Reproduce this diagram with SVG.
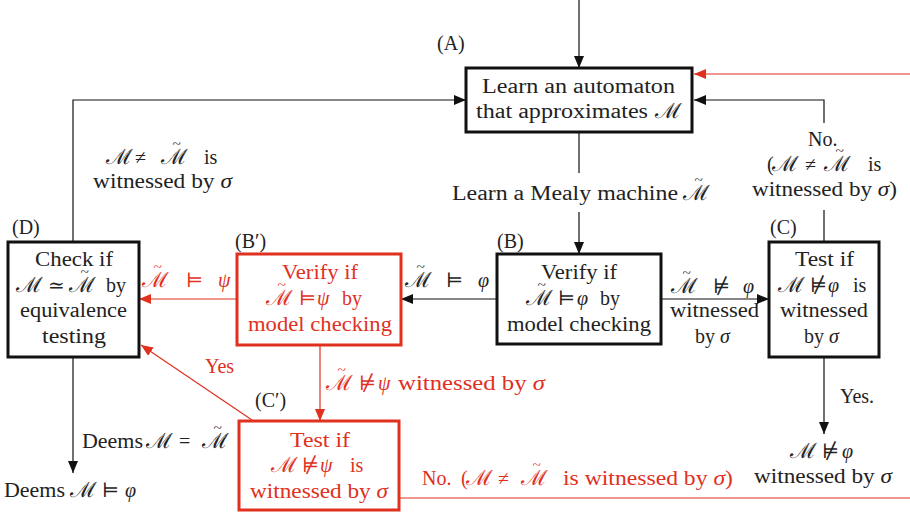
<svg xmlns="http://www.w3.org/2000/svg" width="910" height="512" viewBox="0 0 910 512">
<defs>
<marker id="ab" viewBox="0 0 12 10" refX="12" refY="5" markerWidth="12" markerHeight="10" markerUnits="userSpaceOnUse" orient="auto"><path d="M0,0 L12,5 L0,10 Z" fill="#111"/></marker>
<marker id="ar" viewBox="0 0 12 10" refX="12" refY="5" markerWidth="12" markerHeight="10" markerUnits="userSpaceOnUse" orient="auto"><path d="M0,0 L12,5 L0,10 Z" fill="#e0301e"/></marker>
</defs>
<style>
text{font-family:"Liberation Serif","DejaVu Serif",serif;font-size:20px;fill:#222;text-anchor:start}
.r{fill:#e0301e}
.i{font-style:italic}
.m{font-size:21px}
.t{font-size:14px}
.box{fill:#fff;stroke:#111;stroke-width:3}
.rbox{fill:#fff;stroke:#e0301e;stroke-width:3}
.c{fill:none;stroke:#111;stroke-width:1.2}
.cr{fill:none;stroke:#e0301e;stroke-width:1.2}
</style>
<rect width="910" height="512" fill="#fff"/>
<g id="connectors">
<path class="c" d="M579,0 V68" marker-end="url(#ab)"/>
<path class="cr" d="M910,74 H694" marker-end="url(#ar)"/>
<path class="c" d="M824,242 V210 M824,123 V100 H694" marker-end="url(#ab)"/>
<path class="c" d="M73,242 V100 H466" marker-end="url(#ab)"/>
<path class="c" d="M579,132 V173 M579,212 V254" marker-end="url(#ab)"/>
<path class="c" d="M497,299 H401" marker-end="url(#ab)"/>
<path class="c" d="M661,299 H769" marker-end="url(#ab)"/>
<path class="cr" d="M237,299 H139" marker-end="url(#ar)"/>
<path class="cr" d="M320,345 V421" marker-end="url(#ar)"/>
<path class="cr" d="M252,420 L141,345" marker-end="url(#ar)"/>
<path class="c" d="M824,357 V434" marker-end="url(#ab)"/>
<path class="c" d="M73,357 V473" marker-end="url(#ab)"/>
<path class="cr" d="M399,498 H910"/>
</g>
<g id="labels">
<text class="m" transform="translate(106,164) scale(1.1,1)">ℳ</text><text x="135" y="164">≠</text><text class="m" transform="translate(161,164) scale(1.1,1)">ℳ<tspan class="t" x="10.5" dy="-15">~</tspan></text><text x="204" y="164">is</text>
<text x="93" y="188" textLength="139" lengthAdjust="spacingAndGlyphs">witnessed by <tspan class="i">σ</tspan></text>
<text x="452" y="200" textLength="226" lengthAdjust="spacingAndGlyphs">Learn a Mealy machine</text><text class="m" transform="translate(683,200) scale(1.1,1)">ℳ<tspan class="t" x="10.5" dy="-15">~</tspan></text>
<text x="808" y="146">No.</text>
<text x="767" y="171">(</text><text class="m" transform="translate(772,171) scale(1.1,1)">ℳ</text><text x="805" y="171">≠</text><text class="m" transform="translate(824,171) scale(1.1,1)">ℳ<tspan class="t" x="10.5" dy="-15">~</tspan></text><text x="868" y="171">is</text>
<text x="752" y="196" textLength="145" lengthAdjust="spacingAndGlyphs">witnessed by <tspan class="i">σ</tspan>)</text>
<text class="m" transform="translate(405,287) scale(1.1,1)">ℳ<tspan class="t" x="10.5" dy="-15">~</tspan></text><text x="446" y="287">⊨</text><text class="i" x="478" y="287">φ</text>
<text class="m" transform="translate(671,293) scale(1.1,1)">ℳ<tspan class="t" x="10.5" dy="-15">~</tspan></text><text x="713" y="293">⊭</text><text class="i" x="743" y="293">φ</text>
<text x="670" y="317" textLength="89" lengthAdjust="spacingAndGlyphs">witnessed</text>
<text x="695" y="343">by <tspan class="i">σ</tspan></text>
<text class="m r" transform="translate(142,287) scale(1.1,1)">ℳ<tspan class="t" x="10.5" dy="-15">~</tspan></text><text class="r" x="186" y="287">⊨</text><text class="i r" x="218" y="287">ψ</text>
<text class="m r" transform="translate(326,390) scale(1.1,1)">ℳ<tspan class="t" x="10.5" dy="-15">~</tspan></text><text class="r" x="359" y="390">⊭</text><text class="i r" x="378" y="390">ψ</text><text class="r" x="398" y="390" textLength="147" lengthAdjust="spacingAndGlyphs">witnessed by <tspan class="i">σ</tspan></text>
<text class="r" x="205" y="373">Yes</text>
<text x="82" y="448" textLength="61" lengthAdjust="spacingAndGlyphs">Deems</text><text class="m" transform="translate(146,448) scale(1.1,1)">ℳ</text><text x="179" y="448">=</text><text class="m" transform="translate(202,448) scale(1.1,1)">ℳ<tspan class="t" x="10.5" dy="-15">~</tspan></text>
<text x="4" y="497" textLength="61" lengthAdjust="spacingAndGlyphs">Deems</text><text class="m" transform="translate(70,497) scale(1.1,1)">ℳ</text><text x="102" y="497">⊨</text><text class="i" x="125" y="497">φ</text>
<text class="r" x="422" y="485">No.</text><text class="r" x="461" y="485">(</text><text class="m r" transform="translate(466,485) scale(1.1,1)">ℳ</text><text class="r" x="498" y="485">≠</text><text class="m r" transform="translate(521,485) scale(1.1,1)">ℳ<tspan class="t" x="10.5" dy="-15">~</tspan></text><text class="r" x="563" y="485" textLength="170" lengthAdjust="spacingAndGlyphs">is witnessed by <tspan class="i">σ</tspan>)</text>
<text x="840" y="403">Yes.</text>
<text class="m" transform="translate(790,458) scale(1.1,1)">ℳ</text><text x="822" y="458">⊭</text><text class="i" x="842" y="458">φ</text>
<text x="754" y="483" textLength="138" lengthAdjust="spacingAndGlyphs">witnessed by <tspan class="i">σ</tspan></text>
</g>
<g id="A">
<rect class="box" x="466" y="68" width="226" height="64"/>
<text x="437" y="50">(A)</text>
<text x="482" y="93" textLength="193" lengthAdjust="spacingAndGlyphs">Learn an automaton</text>
<text x="476" y="118" textLength="172" lengthAdjust="spacingAndGlyphs">that approximates</text><text class="m" transform="translate(655,118) scale(1.1,1)">ℳ</text>
</g>
<g id="B">
<rect class="box" x="497" y="254" width="164" height="90"/>
<text x="497" y="248">(B)</text>
<text x="541" y="279" textLength="76" lengthAdjust="spacingAndGlyphs">Verify if</text>
<text class="m" transform="translate(526,305) scale(1.1,1)">ℳ<tspan class="t" x="10.5" dy="-15">~</tspan></text><text x="558" y="305">⊨</text><text class="i" x="577" y="305">φ</text><text x="600" y="305">by</text>
<text x="507" y="331" textLength="144" lengthAdjust="spacingAndGlyphs">model checking</text>
</g>
<g id="C">
<rect class="box" x="769" y="242" width="110" height="115"/>
<text x="770" y="234">(C)</text>
<text x="795" y="266" textLength="59" lengthAdjust="spacingAndGlyphs">Test if</text>
<text class="m" transform="translate(778,292) scale(1.1,1)">ℳ</text><text x="810" y="292">⊭</text><text class="i" x="828" y="292">φ</text><text x="853" y="292">is</text>
<text x="780" y="317" textLength="88" lengthAdjust="spacingAndGlyphs">witnessed</text>
<text x="804" y="343">by <tspan class="i">σ</tspan></text>
</g>
<g id="D">
<rect class="box" x="8" y="242" width="131" height="115"/>
<text x="12" y="234">(D)</text>
<text x="35" y="266" textLength="78" lengthAdjust="spacingAndGlyphs">Check if</text>
<text class="m" transform="translate(16,292) scale(1.1,1)">ℳ</text><text x="48" y="292">≃</text><text class="m" transform="translate(69,292) scale(1.1,1)">ℳ<tspan class="t" x="10.5" dy="-15">~</tspan></text><text x="106" y="292">by</text>
<text x="20" y="317" textLength="107" lengthAdjust="spacingAndGlyphs">equivalence</text>
<text x="42" y="343" textLength="64" lengthAdjust="spacingAndGlyphs">testing</text>
</g>
<g id="Bp">
<rect class="rbox" x="237" y="254" width="164" height="91"/>
<text x="235" y="248">(B′)</text>
<text class="r" x="282" y="279" textLength="76" lengthAdjust="spacingAndGlyphs">Verify if</text>
<text class="m r" transform="translate(266,305) scale(1.1,1)">ℳ<tspan class="t" x="10.5" dy="-15">~</tspan></text><text class="r" x="299" y="305">⊨</text><text class="i r" x="317" y="305">ψ</text><text class="r" x="342" y="305">by</text>
<text class="r" x="248" y="331" textLength="144" lengthAdjust="spacingAndGlyphs">model checking</text>
</g>
<g id="Cp">
<rect class="rbox" x="239" y="421" width="160" height="89"/>
<text x="255" y="407">(C′)</text>
<text class="r" x="290" y="447" textLength="60" lengthAdjust="spacingAndGlyphs">Test if</text>
<text class="m r" transform="translate(271,472) scale(1.1,1)">ℳ</text><text class="r" x="302" y="472">⊭</text><text class="i r" x="320" y="472">ψ</text><text class="r" x="350" y="472">is</text>
<text class="r" x="250" y="498" textLength="138" lengthAdjust="spacingAndGlyphs">witnessed by <tspan class="i">σ</tspan></text>
</g>
</svg>
